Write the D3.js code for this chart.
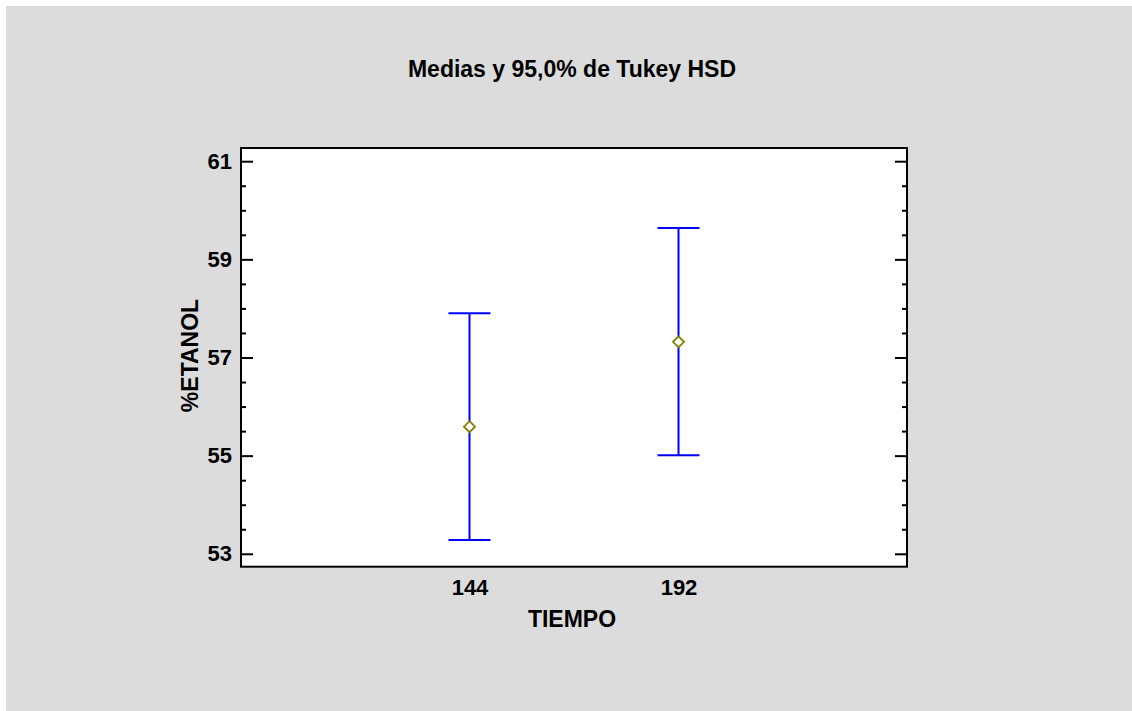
<!DOCTYPE html>
<html>
<head>
<meta charset="utf-8">
<script src="https://d3js.org/d3.v7.min.js"></script>
<style>
  body { margin: 0; background: #ffffff; }
  text { font-family: "Liberation Sans", Arial, sans-serif; font-weight: bold; fill: #000; }
</style>
</head>
<body>
<div id="my_dataviz"></div>
<script>
// data
const categories = ['144', '192'];
const means = [55.59, 57.32];
const lower = [53.28, 55.01];
const upper = [57.90, 59.64];
const majorTicks = [53, 55, 57, 59, 61];
const minorTicks = [53.5, 54, 54.5, 55.5, 56, 56.5, 57.5, 58, 58.5, 59.5, 60, 60.5];

const titleText = 'Medias y 95,0% de Tukey HSD';
const xLabel = 'TIEMPO';
const yLabel = '%ETANOL';

const data = categories.map((c, i) => ({ cat: c, mean: means[i], lo: lower[i], hi: upper[i] }));

// set the dimensions and margins of the graph
const W = 1132, H = 711;
const margin = { top: 148, right: 225, bottom: 144.3, left: 241 },
  width = W - margin.left - margin.right,
  height = H - margin.top - margin.bottom;

const svg = d3.select('#my_dataviz')
  .append('svg')
  .attr('width', W)
  .attr('height', H);

// grey panel behind everything
svg.append('rect')
  .attr('x', 6).attr('y', 6)
  .attr('width', W - 6).attr('height', H - 6)
  .attr('fill', '#dcdcdc');

svg.append('text')
  .attr('x', 572).attr('y', 77)
  .attr('text-anchor', 'middle')
  .style('font-size', '23px')
  .text(titleText);

const g = svg.append('g')
  .attr('transform', `translate(${margin.left}, ${margin.top})`);

g.append('rect')
  .attr('width', width).attr('height', height)
  .attr('fill', '#ffffff');

const x = d3.scalePoint()
  .domain(categories)
  .range([0, width])
  .padding(1.0933);

const y = d3.scaleLinear()
  .domain([52.737, 61.269])
  .range([height, 0]);

// left axis, ticks pointing inside
const yAxis = g.append('g')
  .call(d3.axisLeft(y).tickValues(majorTicks).tickSize(-12).tickPadding(9).tickFormat(d3.format('d')));
yAxis.selectAll('text').style('font-size', '22px');

g.append('g')
  .call(d3.axisLeft(y).tickValues(minorTicks).tickSize(-5).tickFormat(''));

// right side mirrors the ticks
g.append('g')
  .attr('transform', `translate(${width}, 0)`)
  .call(d3.axisRight(y).tickValues(majorTicks).tickSize(-12).tickFormat(''));
g.append('g')
  .attr('transform', `translate(${width}, 0)`)
  .call(d3.axisRight(y).tickValues(minorTicks).tickSize(-5).tickFormat(''));

const xAxis = g.append('g')
  .attr('transform', `translate(0, ${height})`)
  .call(d3.axisBottom(x).tickSize(0).tickPadding(13));
xAxis.selectAll('text').style('font-size', '22px');

g.selectAll('.domain').remove();
g.selectAll('.tick line').attr('stroke', '#000').attr('stroke-width', 2);

// frame
g.append('rect')
  .attr('width', width).attr('height', height)
  .attr('fill', 'none')
  .attr('stroke', '#000')
  .attr('stroke-width', 2);

// error bars
const capHalf = 21;
const bars = g.selectAll('.bar')
  .data(data)
  .join('g')
  .attr('class', 'bar');

bars.append('line')
  .attr('x1', d => x(d.cat)).attr('x2', d => x(d.cat))
  .attr('y1', d => y(d.lo)).attr('y2', d => y(d.hi))
  .attr('stroke', '#0000ff').attr('stroke-width', 2);

bars.append('line')
  .attr('x1', d => x(d.cat) - capHalf).attr('x2', d => x(d.cat) + capHalf)
  .attr('y1', d => y(d.hi)).attr('y2', d => y(d.hi))
  .attr('stroke', '#0000ff').attr('stroke-width', 2);

bars.append('line')
  .attr('x1', d => x(d.cat) - capHalf).attr('x2', d => x(d.cat) + capHalf)
  .attr('y1', d => y(d.lo)).attr('y2', d => y(d.lo))
  .attr('stroke', '#0000ff').attr('stroke-width', 2);

// mean marker
bars.append('path')
  .attr('d', d => {
    const cx = x(d.cat), cy = y(d.mean), r = 5.5;
    return `M${cx},${cy - r}L${cx + r},${cy}L${cx},${cy + r}L${cx - r},${cy}Z`;
  })
  .attr('fill', '#ffffff')
  .attr('stroke', '#808000')
  .attr('stroke-width', 1.8);

// axis labels
svg.append('text')
  .attr('x', 572).attr('y', 627)
  .attr('text-anchor', 'middle')
  .style('font-size', '23px')
  .text(xLabel);

svg.append('text')
  .attr('transform', 'translate(198, 355.5) rotate(-90)')
  .attr('text-anchor', 'middle')
  .style('font-size', '23px')
  .text(yLabel);
</script>
</body>
</html>
